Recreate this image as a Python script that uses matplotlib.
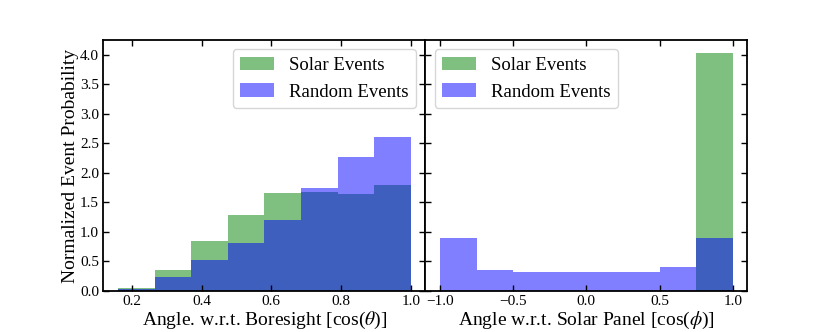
import numpy as np
import matplotlib
matplotlib.use("Agg")
import matplotlib.pyplot as plt

plt.rcParams['font.family'] = ['Liberation Serif', 'DejaVu Serif']
plt.rcParams['mathtext.fontset'] = 'stix'

# Left panel: cos(theta) w.r.t. boresight
bore_edges = np.linspace(0.16, 1.0, 9)
bore_solar = [0.05, 0.36, 0.84, 1.28, 1.66, 1.68, 1.64, 1.79]
bore_random = [0.034, 0.24, 0.52, 0.81, 1.21, 1.74, 2.27, 2.60]

# Right panel: cos(phi) w.r.t. solar panel
panel_edges = np.linspace(-1.0, 1.0, 9)
panel_solar = [0, 0, 0, 0, 0, 0, 0, 4.03]
panel_random = [0.90, 0.36, 0.32, 0.33, 0.33, 0.32, 0.40, 0.89]

yticks = [0.0, 0.5, 1.0, 1.5, 2.0, 2.5, 3.0, 3.5, 4.0]
left_xticks = [0.2, 0.4, 0.6, 0.8, 1.0]
right_xticks = [-1.0, -0.5, 0.0, 0.5, 1.0]

fig, (ax1, ax2) = plt.subplots(1, 2, sharey=True, figsize=(8.3, 3.32), dpi=100)
fig.subplots_adjust(left=0.1245, right=0.9004, top=0.8795, bottom=0.1235, wspace=0)

def draw(ax, edges, solar, rand):
    centers = (np.array(edges[:-1]) + np.array(edges[1:])) / 2
    ax.hist(centers, bins=edges, weights=solar, color='g', alpha=0.5, label='Solar Events')
    ax.hist(centers, bins=edges, weights=rand, color='b', alpha=0.5, label='Random Events')
    ax.tick_params(direction='in', top=True, right=True, labelsize=11, length=4, width=1, pad=3)
    for s in ax.spines.values():
        s.set_linewidth(1.3)

draw(ax1, bore_edges, bore_solar, bore_random)
draw(ax2, panel_edges, panel_solar, panel_random)

ax1.set_ylim(0, 4.25)
ax1.set_yticks(yticks)
ax1.set_xticks(left_xticks)
ax2.set_xticks(right_xticks)

ax1.set_xlabel(r'Angle. w.r.t. Boresight [cos($\theta$)]', fontsize=14, labelpad=1)
ax2.set_xlabel(r'Angle w.r.t. Solar Panel [cos($\phi$)]', fontsize=14, labelpad=1)
ax1.set_ylabel('Normalized Event Probability', fontsize=14, labelpad=1)

ax1.legend(loc='upper right', fontsize=13.5, handlelength=1.8)
ax2.legend(loc='upper left', fontsize=13.5, handlelength=1.8)

fig.savefig('out.png', dpi=100)
